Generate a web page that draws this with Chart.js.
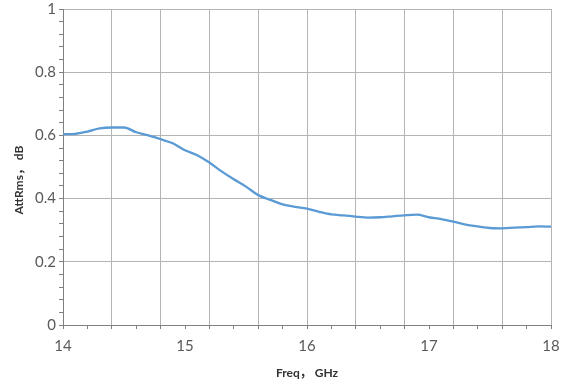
<!DOCTYPE html>
<html>
<head>
<meta charset="utf-8">
<script src="https://cdn.jsdelivr.net/npm/chart.js@4/dist/chart.umd.min.js"></script>
<style>
  html,body{margin:0;padding:0;background:#fff;}
  #wrap{width:564px;height:388px;}
</style>
</head>
<body>
<div id="wrap"><canvas id="c" width="564" height="388"></canvas></div>
<script>
/* ---------- data ---------- */
const freqGHz = [14.0,14.1,14.2,14.3,14.4,14.5,14.6,14.7,14.8,14.9,
                 15.0,15.1,15.2,15.3,15.4,15.5,15.6,15.7,15.8,15.9,
                 16.0,16.1,16.2,16.3,16.4,16.5,16.6,16.7,16.8,16.9,
                 17.0,17.1,17.2,17.3,17.4,17.5,17.6,17.7,17.8,17.9,18.0];
const attRms  = [0.604,0.605,0.612,0.622,0.625,0.625,0.610,0.600,0.588,0.575,
                 0.553,0.537,0.514,0.486,0.461,0.438,0.411,0.396,0.382,0.374,
                 0.368,0.358,0.350,0.347,0.343,0.340,0.341,0.344,0.347,0.349,
                 0.341,0.335,0.327,0.318,0.312,0.307,0.306,0.308,0.310,0.312,0.311];
const xTitle = 'Freq， GHz';
const yTitle = 'AttRms， dB';

/* ---------- 小工具 ---------- */
const isMult = (v,s) => Math.abs(v/s - Math.round(v/s)) < 1e-6;
const FONT = 'Lato, "Noto Sans CJK SC", sans-serif';

/* axis titles drawn as text at their place in the picture */
const titles = {
  id:'titles',
  afterDraw(ch){
    const {ctx, chartArea:a} = ch;
    ctx.save();
    ctx.fillStyle = '#333';
    ctx.font = 'bold 12px ' + FONT;
    ctx.textAlign = 'center'; ctx.textBaseline = 'middle';
    ctx.fillText(xTitle, (a.left+a.right)/2, 373);
    ctx.translate(19, 180);
    ctx.rotate(-Math.PI/2);
    ctx.fillText(yTitle, 0, 0);
    ctx.restore();
  }
};

new Chart(document.getElementById('c').getContext('2d'), {
  type:'line',
  data:{ datasets:[{
    data: freqGHz.map((f,i)=>({x:f, y:attRms[i]})),
    borderColor:'#5B9BD5', borderWidth:2.3,
    pointRadius:0, tension:0.4, cubicInterpolationMode:'monotone'
  }]},
  options:{
    responsive:false, animation:false,
    layout:{ padding:{top:9, right:13, left:0, bottom:0} },
    plugins:{ legend:{display:false}, tooltip:{enabled:false} },
    scales:{
      x:{
        type:'linear', min:14, max:18,
        afterFit: s => { s.height = 63; s.paddingLeft = 0; s.paddingRight = 0; },
        border:{ color:'#808080', width:1 },
        grid:{
          color: c => isMult(c.tick.value,0.4) ? '#B4B4B4' : 'rgba(0,0,0,0)',
          tickColor:'#808080', tickLength:4, lineWidth:1
        },
        ticks:{
          stepSize:0.2, autoSkip:false, maxRotation:0, padding:8,
          color:'#595959', font:{family:FONT, size:15},
          callback: v => isMult(v,1) ? String(Math.round(v)) : ''
        }
      },
      y:{
        min:0, max:1,
        afterFit: s => { s.width = 63; s.paddingTop = 0; s.paddingBottom = 0; },
        border:{ color:'#808080', width:1 },
        grid:{
          color: c => isMult(c.tick.value,0.2) ? '#B4B4B4' : 'rgba(0,0,0,0)',
          tickColor:'#808080', tickLength:4, lineWidth:1
        },
        ticks:{
          stepSize:0.04, autoSkip:false, padding:3,
          color:'#595959', font:{family:FONT, size:15},
          callback: v => isMult(v,0.2) ? String(+v.toFixed(1)) : ''
        }
      }
    }
  },
  plugins:[titles]
});
</script>
</body>
</html>
